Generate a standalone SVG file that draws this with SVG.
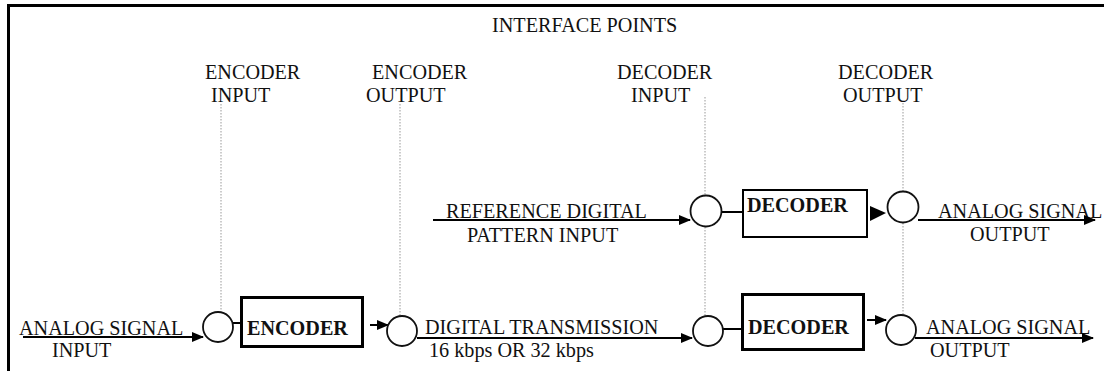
<svg xmlns="http://www.w3.org/2000/svg" width="1104" height="371" viewBox="0 0 1104 371">
<style>
text{font-family:"Liberation Serif","Times New Roman",serif;font-size:20.2px;fill:#111}
.b{font-weight:bold;font-size:20.2px}
.frame{stroke:#000;stroke-width:3;fill:none}
.box{fill:#fff;stroke:#000;stroke-width:3}
.circ{fill:#fff;stroke:#111;stroke-width:1.8}
.ln{stroke:#000;stroke-width:2;fill:none}
.dot{stroke:#999;stroke-width:1;stroke-dasharray:1.5 1.5;fill:none}
</style>
<defs>
<marker id="ah" markerWidth="12" markerHeight="10" refX="11" refY="5" orient="auto" markerUnits="userSpaceOnUse">
<path d="M0,0 L12,5 L0,10 Z" fill="#000"/>
</marker>
</defs>
<rect width="1104" height="371" fill="#fff"/>
<g id="frame">
<path class="frame" d="M8.5,371 V5.5 H1104"/>
</g>
<g id="labels">
<text x="492" y="32">INTERFACE POINTS</text>
<text x="205" y="79">ENCODER</text>
<text x="211" y="102">INPUT</text>
<text x="372" y="79">ENCODER</text>
<text x="366" y="102">OUTPUT</text>
<text x="617" y="79">DECODER</text>
<text x="631" y="102">INPUT</text>
<text x="838" y="79">DECODER</text>
<text x="843" y="102">OUTPUT</text>
<text x="19" y="335">ANALOG SIGNAL</text>
<text x="52" y="357">INPUT</text>
<text x="425" y="334">DIGITAL TRANSMISSION</text>
<text x="429" y="357">16 kbps OR 32 kbps</text>
<text x="926" y="334">ANALOG SIGNAL</text>
<text x="930" y="357">OUTPUT</text>
<text x="446" y="218">REFERENCE DIGITAL</text>
<text x="467" y="242">PATTERN INPUT</text>
<text x="938" y="218">ANALOG SIGNAL</text>
<text x="970" y="241">OUTPUT</text>
</g>
<g id="connectors">
<path class="dot" d="M221,104 V311"/>
<path class="dot" d="M400,104 V316"/>
<path class="dot" d="M705,97 V195 M705,227 V315"/>
<path class="dot" d="M903,103 V191 M903,223 V314"/>
<path class="ln" d="M23,337 H203" marker-end="url(#ah)"/>
<path class="ln" d="M233,323 H241"/>
<path class="ln" d="M370,325 H388" marker-end="url(#ah)"/>
<path class="ln" d="M417,338 H692" marker-end="url(#ah)"/>
<path class="ln" d="M723,329 H742"/>
<path class="ln" d="M867,320 H886" marker-end="url(#ah)"/>
<path class="ln" d="M915,338 H1093" marker-end="url(#ah)"/>
<path class="ln" d="M433,220 H690" marker-end="url(#ah)"/>
<path class="ln" d="M722,212 H743"/>
<path d="M870,206 L886,213 L870,221 Z" fill="#000"/>
<path class="ln" d="M918,220 H1095" marker-end="url(#ah)"/>
</g>
<g id="enc-in"><circle class="circ" cx="218" cy="327" r="15"/></g>
<g id="encoder">
<rect class="box" x="241.5" y="297.5" width="121" height="49"/>
<text class="b" x="247" y="335">ENCODER</text>
</g>
<g id="enc-out"><circle class="circ" cx="402" cy="331" r="15"/></g>
<g id="dec-in"><circle class="circ" cx="708" cy="331" r="15"/></g>
<g id="decoder">
<rect class="box" x="742.5" y="294.5" width="121" height="55"/>
<text class="b" x="748" y="334">DECODER</text>
</g>
<g id="dec-out"><circle class="circ" cx="901" cy="330" r="15"/></g>
<g id="ref-in"><circle class="circ" cx="706" cy="211" r="15.5"/></g>
<g id="decoder-ref">
<rect x="743" y="190" width="124" height="47" fill="#fff" stroke="#000" stroke-width="2"/>
<text class="b" x="747" y="212">DECODER</text>
</g>
<g id="ref-out"><circle class="circ" cx="903" cy="207" r="15.5"/></g>
</svg>
